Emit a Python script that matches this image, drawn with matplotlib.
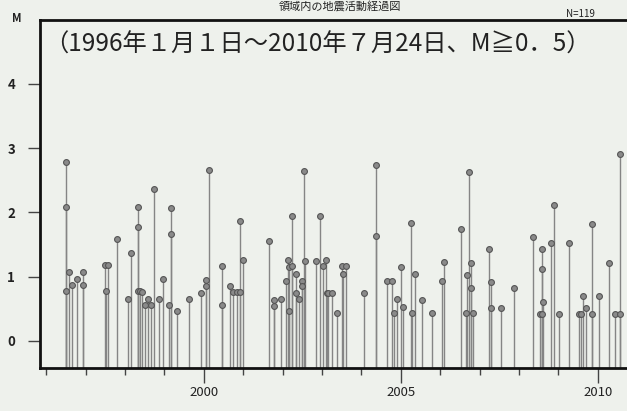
import matplotlib
matplotlib.use("Agg")
import matplotlib.pyplot as plt
from matplotlib.ticker import MultipleLocator

plt.rcParams['font.family'] = ['Noto Sans CJK JP', 'DejaVu Sans']

# event time (decimal year) and magnitude
times = [1996.50, 1996.50, 1996.50, 1996.57, 1996.65, 1996.78, 1996.93, 1996.93,
         1997.49, 1997.56, 1997.51, 1997.79, 1998.07, 1998.15, 1998.32, 1998.32,
         1998.32, 1998.37, 1998.43, 1998.50, 1998.58, 1998.65, 1998.73, 1998.86,
         1998.96, 1999.11, 1999.16, 1999.16, 1999.31, 1999.62, 1999.92, 2000.05,
         2000.05, 2000.13, 2000.46, 2000.46, 2000.66, 2000.74, 2000.84, 2000.91,
         2000.99, 2000.91, 2001.65, 2001.78, 2001.78, 2001.95, 2002.08, 2002.13,
         2002.16, 2002.23, 2002.23, 2002.16, 2002.34, 2002.34, 2002.41, 2002.49,
         2002.49, 2002.54, 2002.56, 2002.84, 2002.94, 2003.02, 2003.10, 2003.12,
         2003.15, 2003.25, 2003.38, 2003.50, 2003.60, 2003.53, 2004.06, 2004.37,
         2004.37, 2004.64, 2004.77, 2004.82, 2004.90, 2005.00, 2005.05, 2005.25,
         2005.28, 2005.36, 2005.53, 2005.79, 2006.04, 2006.09, 2006.52, 2006.68,
         2006.65, 2006.73, 2006.78, 2006.78, 2006.83, 2007.23, 2007.28, 2007.28,
         2007.54, 2007.87, 2008.35, 2008.58, 2008.58, 2008.60, 2008.53, 2008.58,
         2008.81, 2008.88, 2009.01, 2009.26, 2009.52, 2009.57, 2009.62, 2009.70,
         2009.85, 2009.85, 2010.03, 2010.28, 2010.43, 2010.56, 2010.56]
mags = [2.78, 2.08, 0.78, 1.08, 0.87, 0.97, 1.07, 0.87,
        1.18, 1.18, 0.77, 1.58, 0.66, 1.37, 2.08, 1.77,
        0.77, 0.77, 0.76, 0.56, 0.66, 0.56, 2.37, 0.66,
        0.96, 0.56, 2.06, 1.67, 0.47, 0.66, 0.75, 0.95,
        0.86, 2.66, 1.16, 0.56, 0.86, 0.76, 0.76, 1.87,
        1.26, 0.76, 1.56, 0.64, 0.55, 0.65, 0.94, 1.26,
        1.15, 1.16, 1.94, 0.46, 1.04, 0.75, 0.65, 0.94,
        0.85, 2.65, 1.25, 1.25, 1.94, 1.16, 1.26, 0.75,
        0.75, 0.75, 0.44, 1.16, 1.16, 1.04, 0.75, 2.74,
        1.63, 0.94, 0.94, 0.44, 0.65, 1.15, 0.53, 1.84,
        0.44, 1.04, 0.64, 0.44, 0.94, 1.23, 1.74, 1.02,
        0.43, 2.62, 1.22, 0.82, 0.43, 1.43, 0.91, 0.52,
        0.52, 0.82, 1.62, 1.43, 1.12, 0.61, 0.42, 0.42,
        1.52, 2.11, 0.42, 1.52, 0.42, 0.42, 0.70, 0.51,
        1.82, 0.42, 0.70, 1.21, 0.42, 0.42, 2.91]

yticks = [0, 1, 2, 3, 4]
xticks = [2000, 2005, 2010]
subtitle = "（1996年１月１日～2010年７月24日、M≧0．5）"

bg = '#eef1ec'
fig = plt.figure(figsize=(6.27, 4.11), dpi=100, facecolor=bg)
ax = fig.add_axes([0.0638, 0.1046, 0.9362, 0.8467], facecolor=bg)

ymin = -0.42
ax.vlines(times, ymin, mags, color='#858585', lw=1.0, zorder=2)
ax.plot(times, mags, 'o', ms=4.2, mfc='#8a8a8a', mec='#555555', mew=0.8, zorder=3)

ax.set_xlim(1995.84, 2010.74)
ax.set_ylim(ymin, 4.99)

for s in ['left', 'bottom', 'top']:
    ax.spines[s].set_linewidth(2.0)
    ax.spines[s].set_color('#111111')
ax.spines['right'].set_visible(False)

ax.set_yticks(yticks)
ax.set_xticks(xticks)
ax.xaxis.set_minor_locator(MultipleLocator(1))
ax.tick_params(axis='y', direction='out', length=9, width=1.0, color='#444444',
               labelsize=9.5, pad=9)
ax.tick_params(axis='x', which='major', direction='out', length=11, width=1.0,
               color='#444444', labelsize=9.5, pad=2)
ax.tick_params(axis='x', which='minor', direction='out', length=5, width=1.0,
               color='#444444')
for lab in ax.get_yticklabels():
    lab.set_fontweight('bold')
    lab.set_color('#222222')
for lab in ax.get_xticklabels():
    lab.set_color('#222222')

fig.text(12 / 627, 1 - 18 / 411, 'M', fontsize=8, fontweight='bold',
         ha='left', va='center', color='#222222')
fig.text(580 / 627, 1 - 14 / 411, 'N=119', fontsize=7, ha='center',
         va='center', color='#222222')
fig.text(340 / 627, 1 - 6 / 411, '領域内の地震活動経過図', fontsize=8,
         ha='center', va='center', color='#222222')
ax.text(44 / 627, 1 - 45 / 411, subtitle, transform=fig.transFigure,
        fontsize=17.5, ha='left', va='center', color='#222222')

fig.savefig('out.png', dpi=100, facecolor=bg)
